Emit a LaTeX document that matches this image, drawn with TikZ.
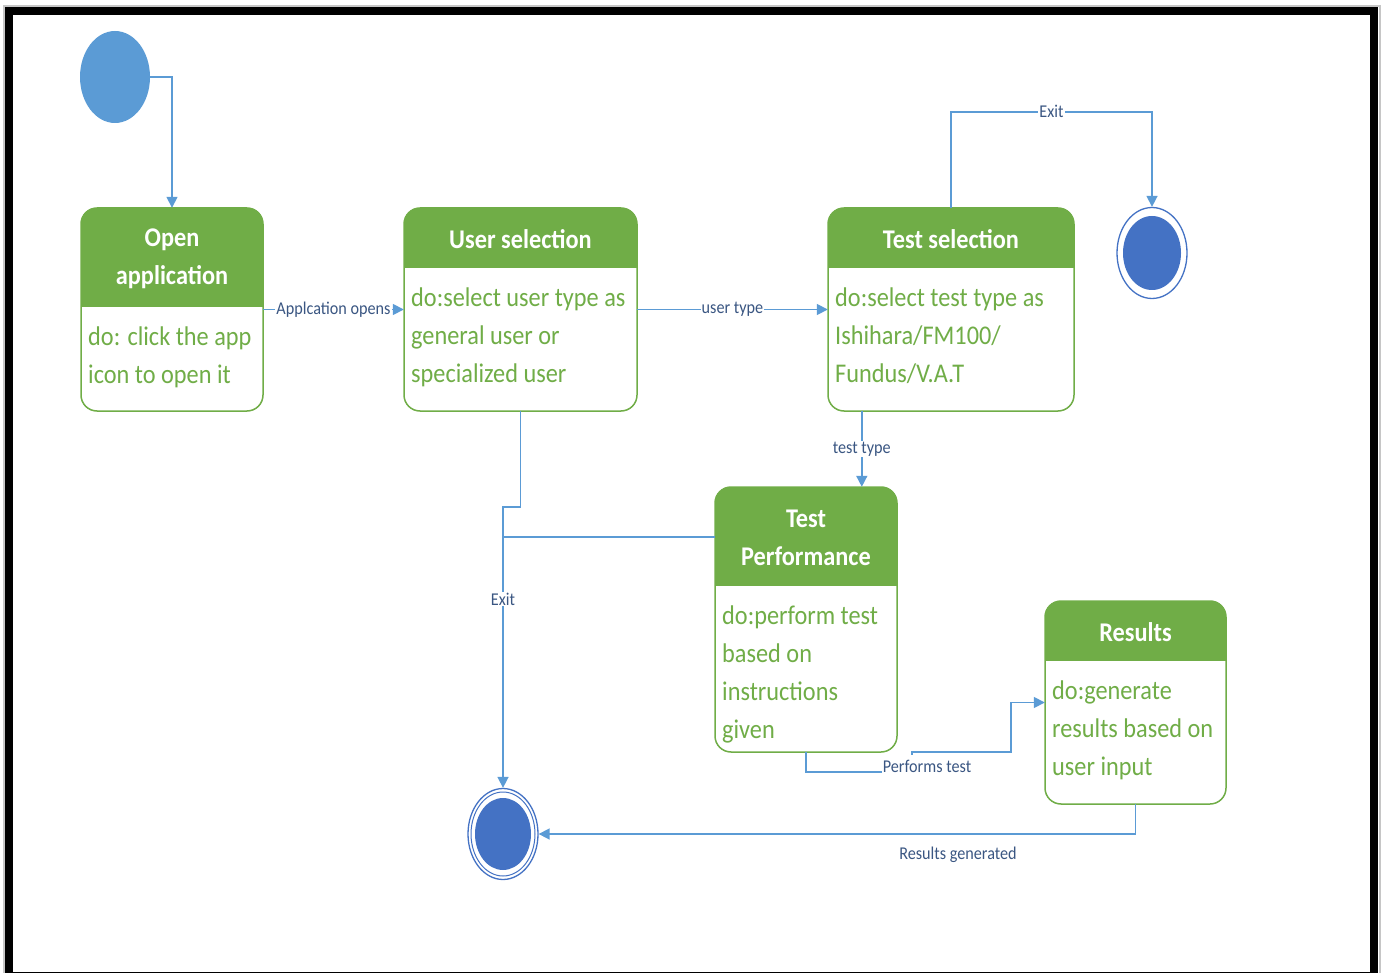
\documentclass[tikz,border=0pt]{standalone}
\usepackage{fontspec}
\setmainfont{Carlito}[FakeStretch=0.9]
\usetikzlibrary{arrows.meta,shapes.geometric}

\definecolor{umlgreen}{HTML}{70AD47}
\definecolor{flowblue}{HTML}{5B9BD5}
\definecolor{endblue}{HTML}{4472C4}
\definecolor{lblblue}{RGB}{58,86,130}

\tikzset{
  conn/.style={draw=flowblue, line width=1.6pt, -{Triangle[length=11pt,width=11pt]}},
  wire/.style={draw=flowblue, line width=1.6pt},
  lbl/.style={font=\fontsize{18}{20}\selectfont, text=lblblue, fill=white, inner sep=1pt},
  holder/.style={fill=white, draw=none, inner sep=0pt, rectangle, rounded corners=16pt},
  hdr/.style={text=white, font=\fontsize{27}{38}\selectfont\bfseries, align=center, inner sep=0pt},
  bodytxt/.style={text=umlgreen, font=\fontsize{27}{38}\selectfont, align=left, anchor=north west, inner sep=0pt},
  startstate/.style={ellipse, fill=flowblue, inner sep=0pt, minimum width=70pt, minimum height=92pt},
  endring/.style={ellipse, draw=endblue, line width=1.3pt, fill=white, inner sep=0pt, minimum width=70pt, minimum height=91pt},
}

% State box: name, x1, y1, x2, y2, bottom of header band, title, activity text
\newcommand\umlstate[8]{%
  \node[holder, minimum width={#4-#2}, minimum height={#5-#3}] (#1) at ({(#2+#4)/2},{(#3+#5)/2}) {};
  \begin{scope}
    \clip[rounded corners=16pt] (#2,#3) rectangle (#4,#5);
    \fill[umlgreen] (#2,#3) rectangle (#4,#6);
  \end{scope}
  \draw[umlgreen, line width=1.5pt, rounded corners=16pt] (#2,#3) rectangle (#4,#5);
  \node[hdr] (#1-title) at ({(#2+#4)/2},{(#3+#6)/2+1}) {#7};
  \node[bodytxt] (#1-body) at ({#2+7},{#6+20}) {#8};
}

\begin{document}
\begin{tikzpicture}[x=1pt, y=-1pt]
\useasboundingbox (0,0) rectangle (1384,973);

% page frame
\draw[gray!45, line width=1.5pt] (4,6) rectangle (1380,985);
\draw[black, line width=8pt] (9,11) rectangle (1374,976);

% states
\umlstate{oa}{81}{208}{263}{411}{307}{Open\\application}{do: click the app\\icon to open it}
\umlstate{us}{404}{208}{637}{411}{268}{User selection}{do:select user type as\\general user or\\specialized user}
\umlstate{ts}{828}{208}{1074}{411}{268}{Test selection}{do:select test type as\\Ishihara/FM100/\\Fundus/V.A.T}
\umlstate{tp}{715}{487}{897}{752}{586}{Test\\Performance}{do:perform test\\based on\\instructions\\given}
\umlstate{rs}{1045}{601}{1226}{804}{661}{Results}{do:generate\\results based on\\user input}

% initial and final states
\node[startstate] (init) at (115,77) {};
\node[endring] (fin1) at (1152,253) {};
\fill[endblue] (fin1.center) ellipse [x radius=29pt, y radius=37pt];
\node[endring] (fin2) at (503,834) {};
\draw[endblue, line width=1pt] (fin2.center) ellipse [x radius=32pt, y radius=42pt];
\fill[endblue] (fin2.center) ellipse [x radius=28pt, y radius=36pt];

% transitions
\draw[conn] (init.east) -| (oa.north);
\draw[conn] (oa.east) -- node[lbl] {Applcation opens} (us.west);
\draw[conn] (us.east) -- node[lbl] {user type} (ts.west);
\draw[conn] ([xshift=34pt]ts.south west) -- node[lbl] {test type} ([xshift=34pt]ts.south west |- tp.north);
\draw[conn] (ts.north) -- ++(0,-96) -| node[lbl, pos=0.25] {Exit} (fin1.north);
\draw[conn] (us.south) -- ++(0,96) -| (fin2.north);
\draw[wire] ([yshift=-50pt]tp.north west) -- ([yshift=-50pt]tp.north west -| fin2.north);
\node[lbl] (exitlbl) at (503,599) {Exit};
\draw[conn] (tp.south) -- ++(0,20) -- ++(106,0) -- ++(0,-20) -- ++(99,0) |- (rs.west);
\node[lbl, inner ysep=5pt] (perflbl) at (927,766) {Performs test};
\draw[conn] (rs.south) |- (fin2.east);
\node[lbl, fill=none] (reslbl) at (958,855) {Results generated};
\end{tikzpicture}
\end{document}
